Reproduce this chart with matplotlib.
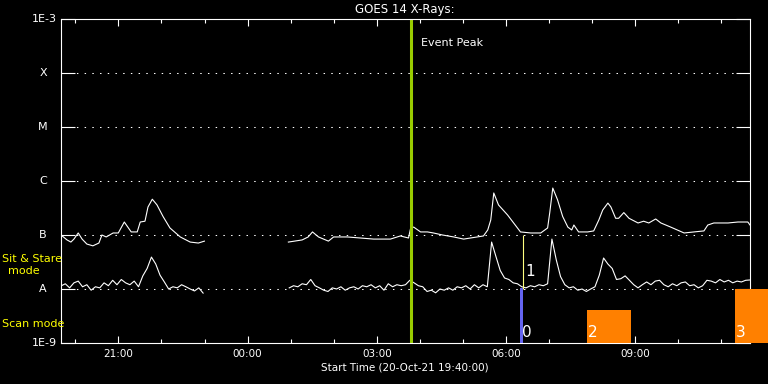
import numpy as np
import matplotlib
matplotlib.use("Agg")
import matplotlib.pyplot as plt
import matplotlib.transforms as mtransforms

# hours after start time (20-Oct-21 19:40)
long_hours = [0.00, 0.14, 0.23, 0.30, 0.40, 0.49, 0.60, 0.74, 0.88, 0.95, 1.05, 1.21, 1.33,
              1.47, 1.63, 1.77, 1.84, 1.95, 2.02, 2.12, 2.23, 2.37, 2.53, 2.77, 3.00, 3.19,
              3.33, 4.30,
              5.28, 5.60, 5.74, 5.84, 5.98, 6.21, 6.33, 6.65, 6.95, 7.26, 7.65, 7.88, 8.07,
              8.12, 8.19, 8.35, 8.51, 8.65, 8.86, 9.12, 9.35, 9.51, 9.81, 9.91, 9.98, 10.05,
              10.16, 10.37, 10.67, 10.91, 11.14, 11.30, 11.35, 11.42, 11.53, 11.65, 11.77,
              11.86, 11.91, 12.02, 12.23, 12.37, 12.49, 12.58, 12.70, 12.77, 12.88, 12.95,
              13.07, 13.19, 13.40, 13.53, 13.65, 13.81, 13.93, 14.16, 14.47, 14.70, 14.93,
              15.02, 15.16, 15.49, 15.72, 15.95, 16.00]
# 1-8 A flux, units of 1e-7 W/m^2 (nan = data gap)
long_flux = [1.0, 0.81, 0.74, 0.84, 1.09, 0.84, 0.68, 0.63, 0.71, 1.0, 0.92, 1.09, 1.09,
             1.74, 1.14, 1.14, 1.74, 1.8, 3.3, 4.6, 3.6, 2.2, 1.35, 0.92, 0.74, 0.71,
             0.77, np.nan,
             0.74, 0.81, 0.92, 1.14, 0.92, 0.77, 0.92, 0.92, 0.88, 0.84, 0.84, 0.96, 0.88,
             1.35, 1.4, 1.14, 1.14, 1.09, 1.0, 0.92, 0.84, 0.88, 0.96, 1.24, 1.9, 6.0,
             3.6, 2.35, 1.14, 1.09, 1.09, 1.35, 2.6, 7.4, 4.5, 2.2, 1.4,
             1.24, 1.53, 1.14, 1.14, 1.19, 1.9, 2.9, 3.9, 3.3, 2.04, 2.04,
             2.6, 2.04, 1.67, 1.8, 1.67, 1.98, 1.67, 1.4, 1.09, 1.14, 1.19,
             1.53, 1.67, 1.67, 1.74, 1.74, 1.53]

# 0.5-4 A flux, units of 1e-8 W/m^2, 6 minute samples
short_start = [0.0, 5.3]
short_flux_a = [1.14, 1.25, 1.05, 1.3, 1.4, 1.1, 1.2, 0.95, 1.1, 1.05, 1.3, 1.15, 1.45,
                1.2, 1.5, 1.3, 1.2, 1.4, 1.1, 1.75, 2.4, 3.9, 2.9, 1.8, 1.35, 1.0,
                1.1, 1.05, 1.2, 1.1, 1.0, 0.92, 1.05, 0.84]
short_flux_b = [1.05, 1.15, 1.1, 1.25, 1.2, 1.5, 1.15, 1.05, 0.95, 0.9, 1.05, 1.0, 1.1,
                0.95, 1.05, 1.1, 1.0, 1.15, 1.1, 1.2, 1.05, 1.15, 0.95, 1.25, 1.1, 1.2,
                1.15, 1.2, 1.45, 1.3, 1.15, 1.1, 0.9, 0.95, 0.85, 1.0, 0.95, 1.05, 0.95,
                1.1, 1.05, 1.15, 1.0, 1.2, 1.05, 1.2, 1.1, 7.4, 4.0, 2.2, 1.6, 1.5, 1.3,
                1.25, 1.1, 1.05, 1.15, 1.1, 1.2, 1.15, 1.25, 8.4, 3.5, 1.7, 1.2, 1.05,
                1.1, 0.95, 1.0, 0.9, 1.0, 1.1, 1.8, 3.75, 2.9, 2.4, 1.5, 1.55, 1.75, 1.45,
                1.2, 1.05, 1.2, 1.35, 1.2, 1.4, 1.45, 1.2, 1.1, 1.25, 1.15, 1.3, 1.35,
                1.15, 1.2, 1.05, 1.15, 1.45, 1.4, 1.3, 1.5, 1.35, 1.45, 1.3, 1.4, 1.35,
                1.45, 1.47]
sample_step = 0.1

level_values = [1e-9, 1e-8, 1e-7, 1e-6, 1e-5, 1e-4, 1e-3]
level_labels = ['1E-9', 'A', 'B', 'C', 'M', 'X', '1E-3']
tick_hours = [1 + 1 / 3, 4 + 1 / 3, 7 + 1 / 3, 10 + 1 / 3, 13 + 1 / 3]
tick_labels = ['21:00', '00:00', '03:00', '06:00', '09:00']

event_peak = 8.13
# sit & stare observation
stare_hours = [10.74]
stare_labels = ['1']
# scan observations: start, end, top flux
scan_start = [10.67, 12.21, 15.65]
scan_end = [10.74, 13.23, 16.80]
scan_top = [1.05e-8, 4.1e-9, 1e-8]
scan_labels = ['0', '2', '3']
scan_colors = ['#6464f0', '#ff8000', '#ff8000']

fig = plt.figure(figsize=(7.68, 3.84), dpi=100, facecolor='black')
ax = fig.add_axes([61 / 768, 41 / 384, 689 / 768, 324 / 384], facecolor='black')
ax.set_yscale('log')
ax.set_xlim(0, 16)
ax.set_ylim(1e-9, 1e-3)

for lv in level_values[1:-1]:
    ax.axhline(lv, color='white', lw=0.75, linestyle=(0, (1.4, 6)))

ax.plot(long_hours, np.array(long_flux) * 1e-7, color='white', lw=0.8)
for start, vals in zip(short_start, [short_flux_a, short_flux_b]):
    hrs = start + sample_step * np.arange(len(vals))
    ax.plot(hrs, np.array(vals) * 1e-8, color='white', lw=0.8)

ax.axvline(event_peak, color='#99cc00', lw=2.2)
ax.text(event_peak + 0.23, 10 ** -3.45, 'Event Peak', color='white', fontsize=8,
        va='center', ha='left')

for h, lab in zip(stare_hours, stare_labels):
    ax.vlines(h, 1e-8, 1e-7, color='#ffff80', lw=0.8)
    ax.text(h + 0.05, 2.1e-8, lab, color='white', fontsize=11, ha='left', va='center')

for s, e, top, lab, c in zip(scan_start, scan_end, scan_top, scan_labels, scan_colors):
    ax.fill_between([s, e], 1e-9, top, color=c, lw=0, clip_on=False, zorder=3)
    ax.text(s + 0.03, 1.15e-9, lab, color='white', fontsize=11, ha='left', va='bottom',
            zorder=4)

for sp in ax.spines.values():
    sp.set_color('white')
    sp.set_linewidth(0.8)

ax.set_xticks(tick_hours)
ax.set_xticklabels(tick_labels)
ax.set_xticks([h + 1 / 3 for h in range(16)], minor=True)
ax.tick_params(axis='x', which='major', direction='in', length=5, width=0.8, colors='white',
               top=True, labelsize=7.5, pad=4)
ax.tick_params(axis='x', which='minor', direction='in', length=3, width=0.8, colors='white',
               top=True)
ax.set_yticks(level_values)
ax.yaxis.set_minor_locator(matplotlib.ticker.NullLocator())
ax.tick_params(axis='y', which='major', direction='in', length=10, width=0.8, colors='white',
               right=True, labelleft=False)

trans = mtransforms.blended_transform_factory(fig.transFigure, ax.transData)
for lv, lab in zip(level_values, level_labels):
    if len(lab) > 1:
        ax.text(57 / 768, lv, lab, transform=trans, color='white', fontsize=8,
                ha='right', va='center')
    else:
        ax.text(43 / 768, lv, lab, transform=trans, color='white', fontsize=8,
                ha='center', va='center')

fig.text(405 / 768, 1 - 9 / 384, 'GOES 14 X-Rays:', color='white', fontsize=8.5,
         ha='center', va='center')
fig.text(405 / 768, 1 - 368 / 384, 'Start Time (20-Oct-21 19:40:00)', color='white',
         fontsize=7.5, ha='center', va='center')
fig.text(2 / 768, 1 - 259 / 384, 'Sit & Stare', color='yellow', fontsize=8,
         ha='left', va='center')
fig.text(24 / 768, 1 - 271 / 384, 'mode', color='yellow', fontsize=8,
         ha='center', va='center')
fig.text(2 / 768, 1 - 324 / 384, 'Scan mode', color='yellow', fontsize=8,
         ha='left', va='center')

fig.savefig('out.png', dpi=100, facecolor='black')
